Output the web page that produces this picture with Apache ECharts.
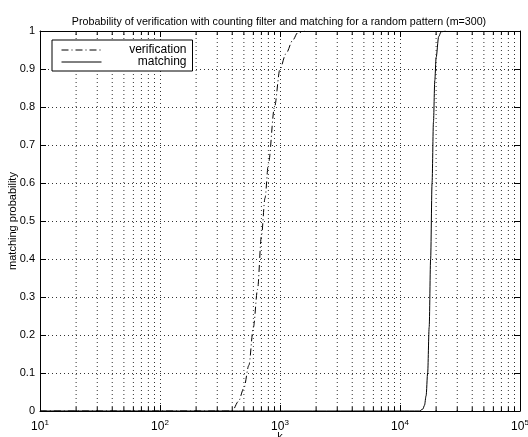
<!DOCTYPE html>
<html>
<head>
<meta charset="utf-8">
<script src="https://cdn.jsdelivr.net/npm/echarts@6/dist/echarts.min.js"></script>
<style>
  html, body { margin: 0; padding: 0; background: #fff; }
  #chart { width: 528px; height: 437px; }
</style>
</head>
<body>
<div id="chart"></div>
<script>
// k values and probabilities for the two curves
const verificationK = [10, 300, 400, 450, 500, 550, 600, 650, 700, 750, 800, 900, 1000, 1120, 1280, 1400, 1600];
const verificationP = [0, 0, 0, 0.025, 0.06, 0.12, 0.22, 0.32, 0.46, 0.56, 0.65, 0.8, 0.9, 0.94, 0.976, 0.995, 1];
const matchingK = [10, 10000, 14500, 15500, 16000, 16500, 17000, 17500, 18000, 18500, 19000, 19500, 20000, 21000, 22000, 24000];
const matchingP = [0, 0, 0, 0.005, 0.015, 0.04, 0.1, 0.22, 0.4, 0.6, 0.76, 0.87, 0.93, 0.985, 0.998, 1];

// axis ticks
const yTicks = [0, 0.1, 0.2, 0.3, 0.4, 0.5, 0.6, 0.7, 0.8, 0.9, 1];
const xMinorTicks = [];
for (let d = 10; d < 100000; d *= 10) {
  for (let m = 2; m <= 9; m++) xMinorTicks.push(m * d);
}

const zip = (a, b) => a.map((v, i) => [v, b[i]]);
const font = 'Liberation Sans, Arial, Helvetica, sans-serif';

const chart = echarts.init(document.getElementById('chart'), null, { renderer: 'canvas' });

const xAxisCommon = {
  type: 'log',
  logBase: 10,
  min: 10,
  max: 100000,
  axisLine: { show: true, onZero: false, lineStyle: { color: '#000', width: 1 } },
  axisTick: { show: true, inside: true, length: 6, lineStyle: { color: '#000' } },
};

const yAxisCommon = {
  type: 'value',
  min: 0,
  max: 1,
  interval: 0.1,
  axisLine: { show: true, onZero: false, lineStyle: { color: '#000', width: 1 } },
  axisTick: { show: true, inside: true, length: 6, lineStyle: { color: '#000' } },
};

chart.setOption({
  animation: false,
  backgroundColor: '#fff',
  title: {
    text: 'Probability of verification with counting filter and matching for a random pattern (m=300)',
    left: 274,
    textAlign: 'center',
    top: 12,
    textStyle: { fontFamily: font, fontSize: 10.7, fontWeight: 'normal', color: '#000' }
  },
  grid: { left: 40, right: 8, top: 31, bottom: 26, containLabel: false, outerBoundsMode: 'none' },
  legend: {
    left: 52,
    top: 40,
    orient: 'vertical',
    width: 141,
    padding: [4, 6, 3, 9],
    itemGap: 0,
    itemWidth: 40,
    itemHeight: 11,
    borderColor: '#000',
    borderWidth: 1,
    backgroundColor: '#fff',
    data: ['verification', 'matching'],
    itemStyle: { opacity: 0 },
    lineStyle: { width: 1 },
    formatter: name => '{t|' + name + '}',
    textStyle: {
      fontFamily: font, fontSize: 12, color: '#000',
      rich: { t: { width: 80, align: 'right', fontFamily: font, fontSize: 12, color: '#000' } }
    }
  },
  xAxis: [
    Object.assign({}, xAxisCommon, {
      position: 'bottom',
      name: 'k',
      nameLocation: 'middle',
      nameGap: 20,
      nameMoveOverlap: false,
      nameTextStyle: { fontFamily: font, fontSize: 11, color: '#000', verticalAlign: 'top' },
      axisLabel: {
        margin: 8,
        formatter: v => '{b|10}{e|' + Math.round(Math.log10(v)) + '}',
        rich: {
          b: { fontFamily: font, fontSize: 12, color: '#000' },
          e: { fontFamily: font, fontSize: 8, color: '#000', padding: [0, 0, 7, 0] }
        }
      },
      splitLine: { show: true, lineStyle: { color: '#333', type: [1, 3], width: 1 } }
    }),
    Object.assign({}, xAxisCommon, {
      position: 'top',
      axisLabel: { show: false },
      splitLine: { show: false }
    })
  ],
  yAxis: [
    Object.assign({}, yAxisCommon, {
      position: 'left',
      name: 'matching probability',
      nameLocation: 'middle',
      nameGap: 22,
      nameMoveOverlap: false,
      nameTextStyle: { fontFamily: font, fontSize: 11, color: '#000' },
      axisLabel: {
        margin: 5,
        fontFamily: font, fontSize: 11, color: '#000',
        formatter: v => String(Math.round(v * 10) / 10)
      },
      splitLine: { show: true, lineStyle: { color: '#333', type: [1, 3], width: 1 } }
    }),
    Object.assign({}, yAxisCommon, {
      position: 'right',
      axisLabel: { show: false },
      splitLine: { show: false }
    })
  ],
  series: [
    {
      // minor log grid lines plus inward minor ticks on top and bottom
      type: 'custom',
      name: 'minor',
      silent: true,
      xAxisIndex: 0,
      yAxisIndex: 0,
      z: 1,
      data: xMinorTicks.map(v => [v, 0]),
      encode: { x: 0, y: 1 },
      renderItem: (params, api) => {
        const v = api.value(0);
        const p0 = api.coord([v, 0]);
        const p1 = api.coord([v, 1]);
        const tick = 4;
        return {
          type: 'group',
          children: [
            { type: 'line', shape: { x1: p0[0], y1: p0[1], x2: p1[0], y2: p1[1] },
              style: { stroke: '#333', lineWidth: 1, lineDash: [1, 3] } },
            { type: 'line', shape: { x1: p0[0], y1: p0[1], x2: p0[0], y2: p0[1] - tick },
              style: { stroke: '#000', lineWidth: 1 } },
            { type: 'line', shape: { x1: p1[0], y1: p1[1], x2: p1[0], y2: p1[1] + tick },
              style: { stroke: '#000', lineWidth: 1 } }
          ]
        };
      }
    },
    {
      type: 'line',
      name: 'verification',
      data: zip(verificationK, verificationP),
      showSymbol: false,
      symbol: 'none',
      smooth: 0.3,
      smoothMonotone: 'x',
      z: 3,
      color: '#000',
      lineStyle: { color: '#000', width: 1, type: [7, 3, 1, 3] }
    },
    {
      type: 'line',
      name: 'matching',
      data: zip(matchingK, matchingP),
      showSymbol: false,
      symbol: 'none',
      smooth: 0.3,
      smoothMonotone: 'x',
      z: 3,
      color: '#000',
      lineStyle: { color: '#000', width: 1, type: 'solid' }
    }
  ]
});
</script>
</body>
</html>
